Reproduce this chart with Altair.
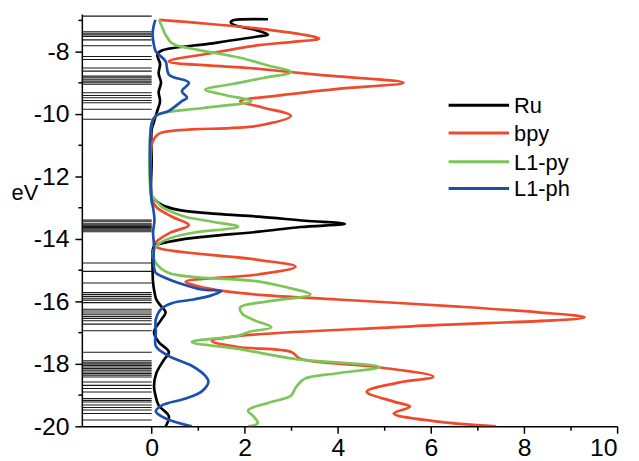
import altair as alt
import pandas as pd

series_names = ["Ru", "bpy", "L1-py", "L1-ph"]
series_colors = ["#000000", "#ef4a2b", "#7cc657", "#1d4fae"]

# (energy eV, DOS) pairs
ru = [(-6.97, 2.5), (-7.0, 1.75), (-7.05, 1.7), (-7.14, 1.75), (-7.3, 2.2), (-7.46, 2.5),
      (-7.52, 2.28), (-7.75, 1.25), (-7.97, 0.22), (-8.1, 0.12), (-8.4, 0.18), (-8.7, 0.15),
      (-9.0, 0.2), (-9.3, 0.15), (-9.6, 0.18), (-9.9, 0.12), (-10.1, 0.08), (-10.3, 0.04),
      (-10.5, 0.0), (-11.5, 0.0), (-12.6, 0.0), (-12.71, 0.05), (-12.9, 0.2), (-13.08, 0.6),
      (-13.2, 1.4), (-13.29, 2.3), (-13.42, 3.3), (-13.52, 4.15), (-13.62, 3.2), (-13.77, 2.3),
      (-13.97, 0.9), (-14.1, 0.35), (-14.24, 0.05), (-14.6, 0.02), (-15.0, 0.02), (-15.4, 0.03),
      (-15.7, 0.06), (-15.94, 0.1), (-16.15, 0.2), (-16.35, 0.3), (-16.6, 0.2), (-16.98, 0.05),
      (-17.3, 0.15), (-17.62, 0.37), (-17.9, 0.25), (-18.3, 0.1), (-18.7, 0.05), (-19.0, 0.08),
      (-19.33, 0.15), (-19.68, 0.37), (-20.0, 0.3)]

bpy = [(-6.99, 0.16), (-7.1, 1.1), (-7.27, 2.3), (-7.45, 3.2), (-7.59, 3.6), (-7.7, 3.0),
       (-7.8, 2.3), (-8.05, 1.3), (-8.32, 0.37), (-8.53, 2.1), (-8.75, 3.6), (-9.0, 5.41),
       (-9.2, 4.0), (-9.4, 2.8), (-9.59, 1.9), (-9.8, 2.4), (-10.06, 2.99), (-10.38, 2.28),
       (-10.63, 0.16), (-10.86, 0.03), (-11.0, 0.0), (-12.7, 0.0), (-12.98, 0.1), (-13.3, 0.45),
       (-13.56, 0.8), (-13.8, 0.4), (-14.03, 0.15), (-14.19, 0.05), (-14.3, 0.16), (-14.67, 2.28),
       (-14.89, 3.09), (-15.14, 2.28), (-15.37, 0.73), (-15.52, 1.0), (-15.68, 1.6), (-15.8, 2.4),
       (-15.94, 4.0), (-16.16, 6.5), (-16.35, 8.3), (-16.51, 9.3), (-16.8, 5.6), (-17.11, 1.86),
       (-17.27, 1.29), (-17.46, 1.86), (-17.62, 3.0), (-17.84, 3.2), (-18.1, 4.83),
       (-18.41, 6.05), (-18.6, 5.3), (-18.89, 4.62), (-19.21, 5.2), (-19.37, 5.55),
       (-19.59, 5.2), (-19.84, 6.1), (-20.0, 7.4)]

l1py = [(-6.99, 0.16), (-7.2, 0.22), (-7.47, 0.3), (-7.74, 0.44), (-7.95, 1.0), (-8.2, 1.9),
        (-8.45, 2.5), (-8.66, 3.0), (-8.85, 2.4), (-9.05, 1.7), (-9.22, 1.15), (-9.4, 1.6),
        (-9.59, 2.14), (-9.81, 1.1), (-10.0, 0.16), (-10.13, 0.05), (-10.3, 0.0), (-12.6, 0.0),
        (-12.76, 0.09), (-12.95, 0.2), (-13.15, 0.45), (-13.29, 0.72), (-13.45, 1.3),
        (-13.61, 1.86), (-13.81, 0.86), (-14.0, 0.35), (-14.24, 0.09), (-14.5, 0.03),
        (-14.77, 0.09), (-15.09, 0.37), (-15.36, 2.28), (-15.55, 2.9), (-15.78, 3.41),
        (-16.0, 2.5), (-16.19, 1.9), (-16.4, 1.95), (-16.6, 2.2), (-16.83, 2.57), (-16.97, 2.1),
        (-17.1, 1.86), (-17.3, 0.86), (-17.52, 1.86), (-17.84, 3.07), (-18.1, 4.9), (-18.3, 4.0),
        (-18.48, 3.28), (-18.75, 3.1), (-19.02, 2.99), (-19.25, 2.5), (-19.49, 2.07),
        (-19.7, 2.2), (-19.9, 2.28), (-20.0, 2.07)]

l1ph = [(-6.99, 0.08), (-7.2, 0.04), (-7.47, 0.02), (-7.8, 0.05), (-8.0, 0.09), (-8.32, 0.3),
        (-8.74, 0.37), (-9.0, 0.8), (-9.27, 0.65), (-9.48, 0.76), (-9.59, 0.65), (-9.9, 0.37),
        (-10.06, 0.09), (-10.3, 0.0), (-12.8, 0.0), (-13.0, 0.03), (-13.4, 0.06), (-13.8, 0.03),
        (-14.2, 0.05), (-14.6, 0.04), (-14.9, 0.05), (-15.09, 0.09), (-15.25, 0.3),
        (-15.41, 0.58), (-15.62, 1.07), (-15.67, 1.5), (-15.8, 1.3), (-15.94, 0.9),
        (-16.05, 0.45), (-16.22, 0.22), (-16.57, 0.09), (-16.98, 0.09), (-17.43, 0.09),
        (-17.75, 0.37), (-18.06, 0.86), (-18.38, 1.15), (-18.57, 1.22), (-18.89, 1.07),
        (-19.11, 0.73), (-19.33, 0.22), (-19.52, 0.09), (-19.75, 0.3), (-20.0, 0.86)]

# energy levels (eV) shown as horizontal lines at the left
levels = [-6.87, -7.37, -7.42, -7.47, -7.52, -7.63, -7.82, -8.16, -8.26, -8.53, -8.63,
          -8.79, -8.84, -8.89, -8.95, -9.0, -9.05, -9.32, -9.41, -9.48, -9.57, -9.64,
          -9.85, -10.17,
          -13.40, -13.45, -13.52, -13.56, -13.60, -13.64, -13.68, -13.72, -13.77,
          -14.77, -15.04, -15.41, -15.72, -15.78, -15.84, -15.90, -15.96, -16.04,
          -16.25, -16.31, -16.37, -16.43, -16.49, -16.55, -16.62, -16.73, -16.94,
          -17.63, -17.90, -17.95, -18.00, -18.05, -18.10, -18.15, -18.20, -18.26,
          -18.31, -18.36, -18.42, -18.58, -18.69, -18.79, -18.90, -19.11, -19.17,
          -19.22, -19.32, -19.40, -19.48, -19.59, -19.80]

x_ticks = list(range(0, 11))
y_ticks = list(range(-20, -6))

FONT = "Liberation Sans"

rows = []
for name, pts in zip(series_names, [ru, bpy, l1py, l1ph]):
    for i, (e, d) in enumerate(pts):
        rows.append({"series": name, "E": e, "dos": d, "i": i})
df = pd.DataFrame(rows)
lev = pd.DataFrame({"E": levels, "x0": -1.5, "x1": 0.0})

x_scale = alt.Scale(domain=[-1.5, 10], nice=False, zero=False)
y_scale = alt.Scale(domain=[-20, -6.8], nice=False, zero=False)

even_label = "datum.value % 2 == 0 ? toString(datum.value) : ''"
tick_size = {"condition": {"test": "datum.value % 2 == 0", "value": 7}, "value": 4}

x_axis = alt.Axis(values=x_ticks, labelExpr=even_label, tickSize=tick_size,
                  title="", labelPadding=2, grid=False)
y_axis = alt.Axis(values=y_ticks, labelExpr=even_label, tickSize=tick_size,
                  title="eV", titleAngle=0, titleX=-58, titleY=180,
                  titleAlign="center", titleBaseline="middle", titleFontSize=22,
                  titleFontWeight="normal", titleFont=FONT, titleColor="#000000",
                  labelPadding=6, grid=False)

levels_layer = alt.Chart(lev).mark_rule(color="#1a1a1a", strokeWidth=1.1).encode(
    x=alt.X("x0:Q", scale=x_scale, axis=x_axis),
    x2="x1:Q",
    y=alt.Y("E:Q", scale=y_scale, axis=y_axis),
)

lines_layer = alt.Chart(df).mark_line(strokeWidth=2.7, clip=True,
                                      interpolate="catmull-rom").encode(
    x=alt.X("dos:Q", scale=x_scale, axis=x_axis),
    y=alt.Y("E:Q", scale=y_scale, axis=y_axis),
    order=alt.Order("i:Q"),
    detail="series:N",
    color=alt.Color("series:N", scale=alt.Scale(domain=series_names, range=series_colors),
                    legend=None),
)

layers = [levels_layer, lines_layer]

# manual legend
leg_rows_y = [92, 120, 149, 176]
one = pd.DataFrame({"a": [0]})
for name, col, yy in zip(series_names, series_colors, leg_rows_y):
    layers.append(alt.Chart(one).mark_rule(color=col, strokeWidth=3).encode(
        x=alt.value(370), x2=alt.value(431), y=alt.value(yy)))
    layers.append(alt.Chart(one).mark_text(align="left", baseline="middle", fontSize=22,
                                           font=FONT, color="#000000").encode(
        x=alt.value(436), y=alt.value(yy + 1), text=alt.value(name)))

chart = alt.layer(*layers).properties(
    width=540, height=416,
    padding={"left": 74.5, "top": 4, "right": 14, "bottom": 36},
    autosize=alt.AutoSizeParams(type="none"),
).configure_view(stroke="transparent").configure_axis(
    labelFont=FONT, labelFontSize=25, labelColor="#000000",
    domainColor="#000000", domainWidth=1.5, tickColor="#000000", tickWidth=1.5,
)

chart.save("out.html", embed_options={"renderer": "svg", "actions": False})
